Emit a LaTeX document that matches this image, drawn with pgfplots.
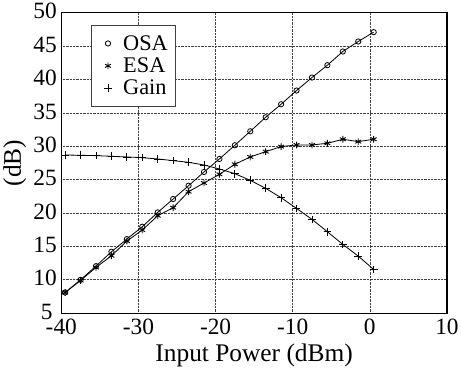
\documentclass[border=0pt]{standalone}
\usepackage{fontspec}
\setmainfont{Liberation Serif}
\usepackage{pgfplots}
\pgfplotsset{compat=1.18}
\begin{document}
\begin{tikzpicture}
\begin{axis}[
  scale only axis,
  width=380pt, height=296pt,
  xmin=-40, xmax=10, ymin=5, ymax=50,
  xtick={-40,-30,...,10}, ytick={5,10,...,50},
  yticklabels={5\hspace*{4pt},10,15,20,25,30,35,40,45,50},
  grid=major,
  major grid style={black!75, densely dotted, line width=0.6pt},
  axis line style={line width=1.3pt},
  tick style={draw=none},
  tick label style={font=\fontsize{23}{27}\selectfont},
  yticklabel style={xshift=-1pt, yshift=1.5pt},
  xticklabel style={yshift=-2.5pt},
  label style={font=\fontsize{25}{29}\selectfont},
  /pgf/number format/assume math mode=true,
  xlabel={Input Power (dBm)},
  ylabel={(dB)},
  xlabel style={yshift=-1.5pt},
  ylabel style={yshift=0pt},
  legend style={at={(0.078,0.96)}, anchor=north west, draw=black!75, line width=0.7pt,
    font=\fontsize{22}{26}\selectfont, row sep=2pt, inner xsep=5pt, inner ysep=8pt,
    cells={anchor=west}},
  legend cell align=left,
  legend image code/.code={\path[draw=none] (0,0) -- (24pt,0); \draw[#1] plot coordinates {(11pt,0pt)};},
]
\addplot[black, line width=0.8pt, mark=o, mark size=2.6pt, mark options={line width=0.8pt}] coordinates {
(-39.5,8.1) (-37.5,10.0) (-35.5,12.05) (-33.5,14.2) (-31.5,16.1) (-29.5,17.95) (-27.5,20.1)
(-25.5,22.1) (-23.5,24.1) (-21.5,26.15) (-19.5,28.1) (-17.5,30.15) (-15.5,32.25) (-13.5,34.35)
(-11.5,36.3) (-9.5,38.35) (-7.5,40.3) (-5.5,42.15) (-3.5,44.2) (-1.5,45.7) (0.5,47.1)};
\addlegendentry{OSA}
\addplot[black, line width=0.8pt, mark=asterisk, mark size=3.3pt, mark options={line width=0.9pt}] coordinates {
(-39.5,8.1) (-37.5,9.9) (-35.5,11.85) (-33.5,13.6) (-31.5,15.8) (-29.5,17.45) (-27.5,19.6)
(-25.5,20.8) (-23.5,23.2) (-21.5,24.5) (-19.5,25.8) (-17.5,27.3) (-15.5,28.4) (-13.5,29.2)
(-11.5,29.95) (-9.5,30.2) (-7.5,30.2) (-5.5,30.45) (-3.5,31.05) (-1.5,30.7) (0.5,31.05)};
\addlegendentry{ESA}
\addplot[black, line width=0.8pt, mark=+, mark size=3.8pt, mark options={line width=0.9pt}] coordinates {
(-39.5,28.7) (-37.5,28.65) (-35.5,28.6) (-33.5,28.5) (-31.5,28.4) (-29.5,28.3) (-27.5,28.1)
(-25.5,27.85) (-23.5,27.6) (-21.5,27.2) (-19.5,26.6) (-17.5,25.9) (-15.5,24.9) (-13.5,23.7)
(-11.5,22.3) (-9.5,20.7) (-7.5,19.05) (-5.5,17.2) (-3.5,15.3) (-1.5,13.55) (0.5,11.55)};
\addlegendentry{Gain}
\end{axis}
\end{tikzpicture}
\end{document}
